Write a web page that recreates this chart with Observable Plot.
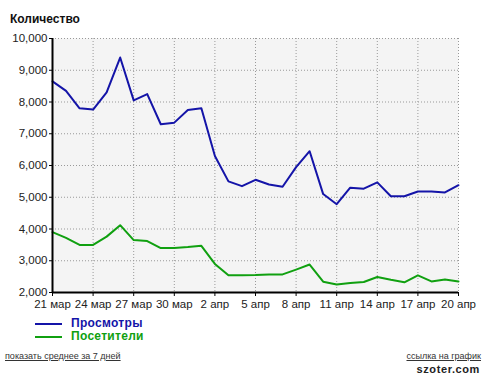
<!DOCTYPE html>
<html><head><meta charset="utf-8">
<script src="https://cdn.jsdelivr.net/npm/d3@7"></script>
<script src="https://cdn.jsdelivr.net/npm/@observablehq/plot@0.6"></script>
<style>
body{margin:0;background:#fff;font-family:"Liberation Sans",Arial,sans-serif;}
#wrap{position:relative;width:482px;height:376px;overflow:hidden;}
#wrap svg{position:absolute;left:0;top:0;}
.t{position:absolute;white-space:nowrap;}
#title{left:10px;top:12px;font-weight:bold;font-size:12px;color:#111;}
.leg{position:absolute;left:35px;width:27px;height:2px;}
.legt{left:71px;font-weight:bold;font-size:12px;letter-spacing:0.3px;}
#lnk1{left:5px;top:351px;font-size:9px;color:#333;text-decoration:underline;}
#lnk2{right:1px;top:351px;font-size:9px;color:#333;text-decoration:underline;}
#brand{right:2px;top:363px;font-size:11px;font-weight:bold;color:#222;letter-spacing:0.6px;}
</style></head>
<body><div id="wrap"></div>
<script>
// Day labels (21 мар .. 20 апр)
const days = ["21 мар","22 мар","23 мар","24 мар","25 мар","26 мар","27 мар","28 мар","29 мар","30 мар","31 мар",
  "1 апр","2 апр","3 апр","4 апр","5 апр","6 апр","7 апр","8 апр","9 апр","10 апр",
  "11 апр","12 апр","13 апр","14 апр","15 апр","16 апр","17 апр","18 апр","19 апр","20 апр"];
// Просмотры
const views = [8650,8350,7800,7760,8300,9400,8050,8250,7300,7350,7750,7800,
  6300,5500,5350,5550,5400,5330,5950,6450,5100,4780,5300,5270,5470,5030,5030,5180,5180,5150,5380];
// Посетители
const visitors = [3900,3720,3500,3500,3760,4120,3650,3620,3400,3400,3430,3470,
  2900,2540,2540,2550,2570,2570,2720,2880,2340,2250,2300,2330,2490,2400,2320,2540,2350,2410,2350];
const xTickIdx = [0,3,6,9,12,15,18,21,24,27,30];
const yTicks = [2000,3000,4000,5000,6000,7000,8000,9000,10000];
const seriesNames = ["Просмотры","Посетители"];
const seriesColors = ["#1414a8","#10a010"];

const fmt = d3.format(",");
const chart = Plot.plot({
  width: 482, height: 376,
  marginLeft: 52, marginRight: 24, marginTop: 38, marginBottom: 84,
  style: {fontFamily: '"Liberation Sans", Arial, sans-serif', fontSize: "11.5px", color: "#222", background: "transparent"},
  x: {type: "linear", domain: [0, 30]},
  y: {domain: [2000, 10000]},
  marks: [
    Plot.frame({fill: "#f4f4f4", stroke: null}),
    Plot.gridY(yTicks, {stroke: "#999", strokeOpacity: 1, strokeDasharray: "1,2"}),
    Plot.gridX(xTickIdx, {stroke: "#999", strokeOpacity: 1, strokeDasharray: "1,2"}),
    Plot.lineY(views, {x: (d, i) => i, y: d => d, stroke: seriesColors[0], strokeWidth: 2}),
    Plot.lineY(visitors, {x: (d, i) => i, y: d => d, stroke: seriesColors[1], strokeWidth: 2}),
    Plot.axisY(yTicks, {tickFormat: fmt, tickSize: 3, tickPadding: 2, stroke: "#000", fill: "#222", fontSize: 11.5, label: null}),
    Plot.axisX(xTickIdx, {tickFormat: i => days[i], tickSize: 4, tickPadding: 3, stroke: "#000", fill: "#222", fontSize: 11.5, label: null}),
    Plot.ruleX([0], {stroke: "#000", strokeWidth: 2}),
    Plot.ruleY([2000], {stroke: "#000", strokeWidth: 2})
  ]
});
const wrap = document.getElementById("wrap");
wrap.appendChild(chart);

function addText(id, cls, txt, style) {
  const d = document.createElement("div");
  if (id) d.id = id;
  d.className = "t " + (cls || "");
  d.textContent = txt;
  if (style) Object.assign(d.style, style);
  wrap.appendChild(d);
  return d;
}
addText("title", "", "Количество");
seriesNames.forEach((name, k) => {
  const y = 324 + k * 13;
  const ln = document.createElement("div");
  ln.className = "leg";
  ln.style.top = (y - 1) + "px";
  ln.style.background = seriesColors[k];
  wrap.appendChild(ln);
  addText(null, "legt", name, {top: (y - 8) + "px", color: seriesColors[k]});
});
addText("lnk1", "", "показать среднее за 7 дней");
addText("lnk2", "", "ссылка на график");
addText("brand", "", "szoter.com");
</script>
</body></html>
